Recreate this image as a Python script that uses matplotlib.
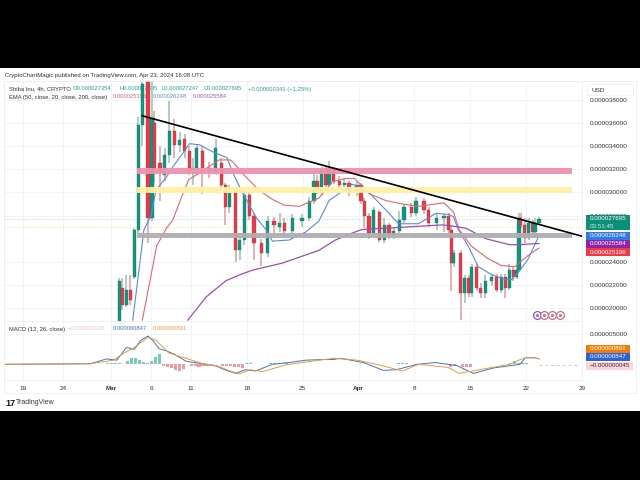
import matplotlib
matplotlib.use("Agg")
import matplotlib.pyplot as plt
from matplotlib.patches import Rectangle
from matplotlib.transforms import Affine2D

plt.rcParams['font.family'] = ['Liberation Sans', 'DejaVu Sans']

# prices are in units of 0.000001 USD, x values are days after Mar 1 2024
candle_day = [1.0,1.4,1.9,2.4,2.9,3.4,3.9,4.6,5.1,5.4,6.1,6.7,7.3,7.9,8.6,9.2,9.8,10.2,10.7,11.4,
    12.3,13.1,13.8,14.3,14.8,15.6,16.1,16.7,17.3,17.9,18.8,19.6,20.4,21.1,21.7,22.7,23.9,24.8,25.4,25.8,
    26.4,26.9,27.3,27.9,28.6,29.2,29.8,30.8,31.3,31.7,32.3,32.9,33.6,34.2,34.8,35.4,36.1,36.7,37.6,38.2,
    39.2,39.8,40.8,41.7,42.3,42.6,42.9,43.8,44.3,44.8,45.2,45.8,46.3,46.9,47.7,48.3,48.9,49.4,49.9,50.4,
    50.8,51.1,51.3,51.8,52.3,52.8,53.1,53.6]
candle_open = [18.5,21.8,20.3,21.6,22.7,26.8,35.8,39.6,27.8,36.0,32.5,31.5,33.2,35.3,34.1,34.6,33.6,31.9,32.1,33.6,
    32.1,31.8,32.5,30.6,28.7,30.1,25.0,25.9,29.8,28.0,25.6,24.8,27.5,27.0,27.4,26.7,27.5,27.8,29.3,31.0,
    30.1,31.9,30.6,32.0,31.0,30.6,30.8,30.1,30.6,29.3,28.0,26.5,28.3,25.9,27.2,26.3,26.7,27.6,28.7,28.2,
    29.3,28.5,27.4,27.8,28.0,26.8,23.9,24.8,21.3,22.6,21.3,23.6,21.8,21.3,22.4,22.7,21.6,22.7,21.8,23.3,
    22.7,23.3,27.8,27.2,26.1,27.4,26.6,27.354]
candle_close = [22.4,20.3,21.6,20.7,26.8,35.8,39.3,27.8,36.4,32.1,31.8,33.2,35.3,34.1,34.5,33.6,31.9,32.1,33.8,32.1,
    31.8,33.8,30.6,28.7,30.1,25.0,25.9,29.8,28.0,25.6,24.8,27.5,27.2,27.4,26.7,27.8,27.8,29.3,31.0,30.1,
    31.9,30.6,32.1,31.0,30.6,30.8,30.1,30.6,29.3,28.0,26.5,28.5,25.9,27.2,26.3,26.7,27.6,28.7,28.2,29.3,
    28.5,27.4,27.8,28.0,26.8,23.9,24.8,21.3,22.6,21.3,23.6,21.8,21.3,22.4,22.7,21.6,22.7,21.8,23.3,22.7,
    23.3,27.8,27.2,26.1,27.4,26.6,27.354,27.695]
candle_high = [22.6,22.6,22.9,22.9,26.9,36.5,39.6,39.6,39.6,37.0,34.0,33.8,37.9,36.3,35.2,35.0,34.0,33.0,34.2,34.0,
    32.6,34.6,33.0,30.8,30.6,30.4,26.3,30.2,30.0,28.2,26.0,28.0,27.9,28.2,27.8,28.1,28.1,29.6,31.7,31.5,
    32.2,32.2,32.7,32.2,31.4,31.2,31.0,31.0,30.8,29.5,28.2,28.7,28.5,27.8,27.4,27.0,28.4,29.0,29.1,29.6,
    29.5,28.7,28.2,28.1,28.2,27.2,25.0,25.0,22.9,22.9,23.8,23.8,22.2,22.9,23.0,23.0,23.0,23.0,23.8,23.6,
    23.9,28.2,28.2,27.8,27.8,27.6,27.8,27.895]
candle_low = [18.5,19.9,20.1,20.3,22.5,26.5,34.0,25.6,27.5,30.8,29.3,31.0,32.5,33.0,33.5,33.0,31.5,30.6,31.5,29.9,
    31.2,31.5,30.2,27.2,28.2,24.0,24.2,25.5,27.6,24.2,23.7,24.4,26.3,26.6,26.2,26.5,27.0,27.5,29.0,29.9,
    29.8,30.3,30.3,30.7,30.2,30.4,29.7,29.7,29.0,26.9,26.0,26.3,25.7,25.6,26.0,26.0,26.4,27.4,27.9,28.0,
    28.1,27.0,26.8,26.6,26.4,21.5,23.6,19.0,20.5,21.0,21.0,21.5,20.9,20.9,21.9,21.4,21.3,20.9,21.6,22.4,
    22.5,23.1,26.9,25.6,25.9,26.3,26.1,27.247]

ema20_day = [2.7,4.1,5.0,5.6,6.9,7.7,8.9,9.8,11.1,12.7,14.5,15.3,16.5,18.2,19.5,20.2,22.3,24.4,26.0,27.3,30.2,
    31.1,32.3,34.4,36.0,38.5,40.7,42.3,42.9,43.5,44.8,46.0,47.7,49.4,50.2,51.0,52.2,53.6]
ema20 = [19.0,26.8,28.0,30.2,31.3,32.2,33.3,34.2,34.1,33.5,33.0,31.6,29.9,27.8,26.7,25.8,25.9,26.6,27.5,29.3,30.7,
    30.5,30.0,28.5,27.3,27.3,28.2,28.1,27.9,26.8,25.3,23.6,22.9,22.5,22.5,23.1,24.2,26.25]
ema50_day = [3.9,5.7,6.9,7.7,8.7,9.7,10.9,12.2,13.5,14.9,15.3,16.5,18.5,20.2,21.7,23.6,26.0,27.7,29.3,30.5,
    32.3,34.4,36.5,38.5,41.7,42.9,43.6,45.1,47.2,48.9,50.6,51.4,52.7,53.6]
ema50 = [19.0,25.4,26.9,27.6,29.4,31.1,31.6,32.2,32.8,32.8,32.6,31.6,30.2,29.4,28.9,28.8,29.5,30.9,31.2,31.2,
    29.9,29.3,29.0,28.8,29.1,28.3,26.8,25.4,24.3,23.7,23.6,24.1,24.8,25.2]
ema200_day = [9.6,11.9,14.4,16.1,17.7,21.4,26.0,28.1,30.2,31.4,36.5,41.5,42.8,44.5,47.0,49.9,51.1,53.6]
ema200 = [19.0,21.0,22.4,22.9,23.3,23.9,25.0,25.9,26.5,26.8,27.0,27.2,27.1,26.9,26.0,25.5,25.5,25.6]

macd_day = [-13.4,-2.6,-0.6,0.7,1.9,2.9,3.7,4.6,5.2,6.0,7.0,8.0,9.4,11.5,13.2,14.4,15.6,16.8,18.1,20.2,22.3,24.4,26.7,
    27.9,28.6,29.2,31.6,34.1,35.7,38.3,40.6,43.3,45.4,47.9,51.2,51.9,53.1,53.6]
macd_line = [0.0,0.1,0.9,0.7,2.8,2.5,4.0,4.7,4.0,2.6,2.2,1.6,0.5,0.1,-0.3,-1.0,-1.5,-0.9,-1.1,0.0,0.3,0.7,0.8,
    0.8,1.0,0.9,0.3,-1.0,-0.9,0.0,0.3,-0.2,-1.5,-0.6,0.0,1.1,1.1,0.9]
signal_day = [-13.4,-2.6,0.3,1.6,2.9,4.6,5.6,7.2,9.6,11.5,13.2,14.9,16.0,17.4,19.0,21.8,25.0,26.7,27.9,30.8,33.6,36.5,38.5,
    42.2,43.6,49.9,51.1,51.9,53.1,53.6]
signal_line = [0.0,0.1,0.7,1.9,2.8,4.5,4.0,1.9,0.9,0.1,-0.2,-1.1,-1.6,-0.9,-1.2,-0.1,0.5,0.8,1.0,0.7,-0.1,-1.1,0.0,
    -0.5,-1.5,0.0,0.7,1.1,1.1,0.9]
hist_day = [-0.5,0,0.5,1,2,2.5,3,3.5,4,4.5,5,5.5,6,6.5,7,7.5,8,8.5,9,10,10.5,11,11.5,12,14,14.5,15,15.5,16,
    16.5,17,17.5,20,20.5,21,21.5,22,36,36.5,37,42.5,43,44,44.5,45,50,50.5,51,51.5,52]
hist_val = [0.2,0.3,0.3,0.2,0.6,1.0,1.1,0.8,0.4,0.2,0.5,1.2,1.8,-0.2,-0.4,-0.6,-0.9,-1.1,-0.7,-0.3,-0.3,-0.4,-0.3,-0.3,-0.2,-0.3,-0.3,-0.4,-0.5,
    -0.6,0.3,0.3,0.2,0.3,0.3,0.3,0.2,0.15,0.2,0.15,-0.4,-0.3,-0.5,-0.4,-0.4,0.2,0.5,0.3,0.2,0.15]

price_ticks = [38, 36, 34, 32, 30, 28, 24, 22, 20]
macd_ticks = [5]
date_days = [-11, -6, 0, 5, 10, 17, 24, 31, 38, 45, 52, 59]
date_labels = ['19', '24', 'Mar', '6', '11', '18', '25', 'Apr', '8', '15', '22', '29']
trend_day = [3.9, 59.4]
trend_price = [36.6, 26.15]
pink_band = [31.6, 32.1]
yellow_band = [29.95, 30.47]
grey_band = [26.07, 26.5]
band_days = [3.2, 57.7]
last_close = 27.695
last_open_line = 27.0
macd_hist_last = -0.045

UP = '#089981'
DOWN = '#f23645'
GRID = '#f1f3f7'
TXT = '#2e3238'


def main():
    fig = plt.figure(figsize=(6.4, 4.8), dpi=100)
    W, H = 640.0, 480.0
    # pixel transform with y going down, for the text furniture
    px = Affine2D().scale(1 / W, -1 / H).translate(0, 1) + fig.transFigure

    def make_axes(x0, y0, x1, y1):
        return fig.add_axes([x0 / W, 1 - y1 / H, (x1 - x0) / W, (y1 - y0) / H])

    ax = make_axes(4, 81, 582, 321)
    ax2 = make_axes(4, 321, 582, 380)
    ax.set_xlim(-13.44, 58.8)
    ax2.set_xlim(-13.44, 58.8)
    ax.set_ylim(18.92, 39.6)
    ax2.set_ylim(-2.6, 7.2)

    # candles
    for d, o, c, h, l in zip(candle_day, candle_open, candle_close, candle_high, candle_low):
        up = c >= o
        ax.vlines(d, l, h, color='#a9c9bd' if up else '#e3a9ab', lw=1.3, zorder=3)
        ax.bar(d, abs(c - o), bottom=min(o, c), width=0.4, color=UP if up else DOWN,
               ec='#4a5a55', lw=0.25, zorder=3.5)

    ax.plot(ema20_day, ema20, color='#5b8bd6', lw=0.8, zorder=4)
    ax.plot(ema50_day, ema50, color='#dc6a6f', lw=0.8, zorder=4)
    ax.plot(ema200_day, ema200, color='#9c4fb0', lw=0.9, zorder=4)

    # drawn zones and the trend line
    ax.fill_between(band_days, pink_band[0], pink_band[1], color='#f091ad', alpha=0.95, lw=0, zorder=5)
    ax.fill_between(band_days, yellow_band[0], yellow_band[1], color='#fff0a3', alpha=0.95, lw=0, zorder=5)
    ax.fill_between(band_days, grey_band[0], grey_band[1], color='#b0aeb0', alpha=0.95, lw=0, zorder=5)
    ax.plot(trend_day, trend_price, color='black', lw=1.2, zorder=6)

    ax.axhline(last_close, color='#8fd0c4', lw=0.6, ls=(0, (1, 2)), zorder=2)
    ax.axhline(last_open_line, color='#f5e27a', lw=0.7, ls=(0, (1, 2)), zorder=2)

    # the little event markers
    marker_days = [53.3, 54.3, 55.3, 56.3]
    marker_colors = ['#8e3fb0', '#e0556a', '#e0556a', '#e0556a']
    for d, col in zip(marker_days, marker_colors):
        ax.plot([d], [19.45], 'o', ms=5.6, mfc='white', mec=col, mew=0.8, zorder=7)
        ax.plot([d], [19.45], 'o', ms=2.4, mfc='#7f8fd0', mec='none', zorder=7.5)

    # macd panel
    ax2.bar(hist_day, hist_val, width=0.38, color=['#7cc9b8' if v > 0 else '#ee9a9f' for v in hist_val], lw=0, zorder=2)
    ax2.plot(macd_day, macd_line, color='#3f73c9', lw=0.7, zorder=3)
    ax2.plot(signal_day, signal_line, color='#e89a3c', lw=0.7, zorder=3)
    ax2.plot([53.6, 58.8], [macd_hist_last, macd_hist_last], color='#f4b9bc', lw=0.7, ls=(0, (3, 3)), zorder=2)

    # axes furniture
    for a in (ax, ax2):
        a.set_facecolor('white')
        a.set_xticks(date_days)
        a.grid(True, color=GRID, lw=0.7, zorder=0)
        a.set_axisbelow(True)
        a.yaxis.tick_right()
        a.tick_params(length=0, labelsize=4.6, labelcolor=TXT, pad=5.5)
        for s in a.spines.values():
            s.set_color('#eceef2')
            s.set_linewidth(0.6)
    ax.set_yticks(price_ticks)
    ax.set_yticklabels(['%.9f' % (v * 1e-6) for v in price_ticks])
    ax.set_xticklabels([])
    ax2.set_yticks(macd_ticks)
    ax2.set_yticklabels(['%.9f' % (v * 1e-6) for v in macd_ticks])
    ax2.set_xticklabels(date_labels)
    ax2.tick_params(axis='x', pad=4.5)
    for lab, txt_ in zip(ax2.get_xticklabels(), date_labels):
        if txt_ in ('Mar', 'Apr'):
            lab.set_fontweight('bold')

    def txt(x, y, s, color=TXT, size=4.25, ax_=None, **kw):
        target = ax_ if ax_ is not None else fig
        target.text(x, y, s, color=color, fontsize=size, transform=px, va='center', ha=kw.pop('ha', 'left'), **kw)

    # header and legends, the candles sit on top of these
    txt(5, 76, 'CryptoChartMagic published on TradingView.com, Apr 23, 2024 16:08 UTC', size=4.3)
    txt(9, 89, 'Shiba Inu, 4h, CRYPTO', ax_=ax, zorder=2)
    teal = '#26a08c'
    txt(73, 89, 'O0.000027354', color=teal, ax_=ax, zorder=2)
    txt(119, 89, 'H0.000027895', color=teal, ax_=ax, zorder=2)
    txt(162, 89, 'L0.000027247', color=teal, ax_=ax, zorder=2)
    txt(204, 89, 'C0.000027695', color=teal, ax_=ax, zorder=2)
    txt(248, 89, '+0.000000341 (+1.25%)', color=teal, ax_=ax, zorder=2)
    txt(9, 97, 'EMA (50, close, 20, close, 200, close)', ax_=ax, zorder=2)
    txt(113, 97, '0.000025196', color='#e0626a', ax_=ax, zorder=2)
    txt(153, 97, '0.000026248', color='#5b8bd6', ax_=ax, zorder=2)
    txt(193, 97, '0.000025584', color='#a259b8', ax_=ax, zorder=2)
    txt(9, 329, 'MACD (12, 26, close)', ax_=ax2, zorder=5)
    txt(68, 329, '\u22120.000000045', color='#f3c6c8', ax_=ax2, zorder=5)
    txt(113, 329, '0.000000847', color='#3f73c9', ax_=ax2, zorder=5)
    txt(153, 329, '0.000000891', color='#e89a3c', ax_=ax2, zorder=5)

    # price tags on the right
    def tag(x0, y0, x1, y1, color):
        fig.add_artist(Rectangle((x0, y0), x1 - x0, y1 - y0, transform=px, fc=color, ec='none', zorder=10))

    tag(586, 215, 630, 230, '#0b8f78')
    txt(590, 219, '0.000027695', color='white', size=4.5, zorder=11)
    txt(590, 226, '03:51:45', color='#cfeee8', size=4.5, zorder=11)
    for y0, y1, col, s in [(232, 239.5, '#2f7ae5', '0.000026248'), (240, 247.5, '#8e24aa', '0.000025584'),
                           (248, 256, '#ec3b47', '0.000025196'), (345, 352.5, '#f57c00', '0.000000891'),
                           (353, 361, '#2962d9', '0.000000847')]:
        tag(586, y0, 630, y1, col)
        txt(590, (y0 + y1) / 2, s, color='white', size=4.5, zorder=11)
    tag(586, 361.5, 633, 369.5, '#fbd5d7')
    txt(590, 365.5, '\u22120.000000045', size=4.5, zorder=11)

    fig.add_artist(Rectangle((587, 84), 46, 11, transform=px, fc='white', ec='#eceef2', lw=0.5, zorder=9))
    txt(592, 90, 'USD', size=4.6, zorder=11)

    # outer frame and bottom strip
    fig.add_artist(Rectangle((4, 81), 632, 312, transform=px, fc='none', ec='#eceef2', lw=0.6, zorder=1))
    txt(5, 403, '17', color='#131722', size=6.5, fontweight='bold')
    txt(16, 403, 'TradingView', color='#333842', size=5.0)

    # letterbox bars
    fig.add_artist(Rectangle((0, 0), 640, 68, transform=px, fc='black', ec='none', zorder=20))
    fig.add_artist(Rectangle((0, 411), 640, 69, transform=px, fc='black', ec='none', zorder=20))

    fig.savefig('out.png', dpi=100)


main()
